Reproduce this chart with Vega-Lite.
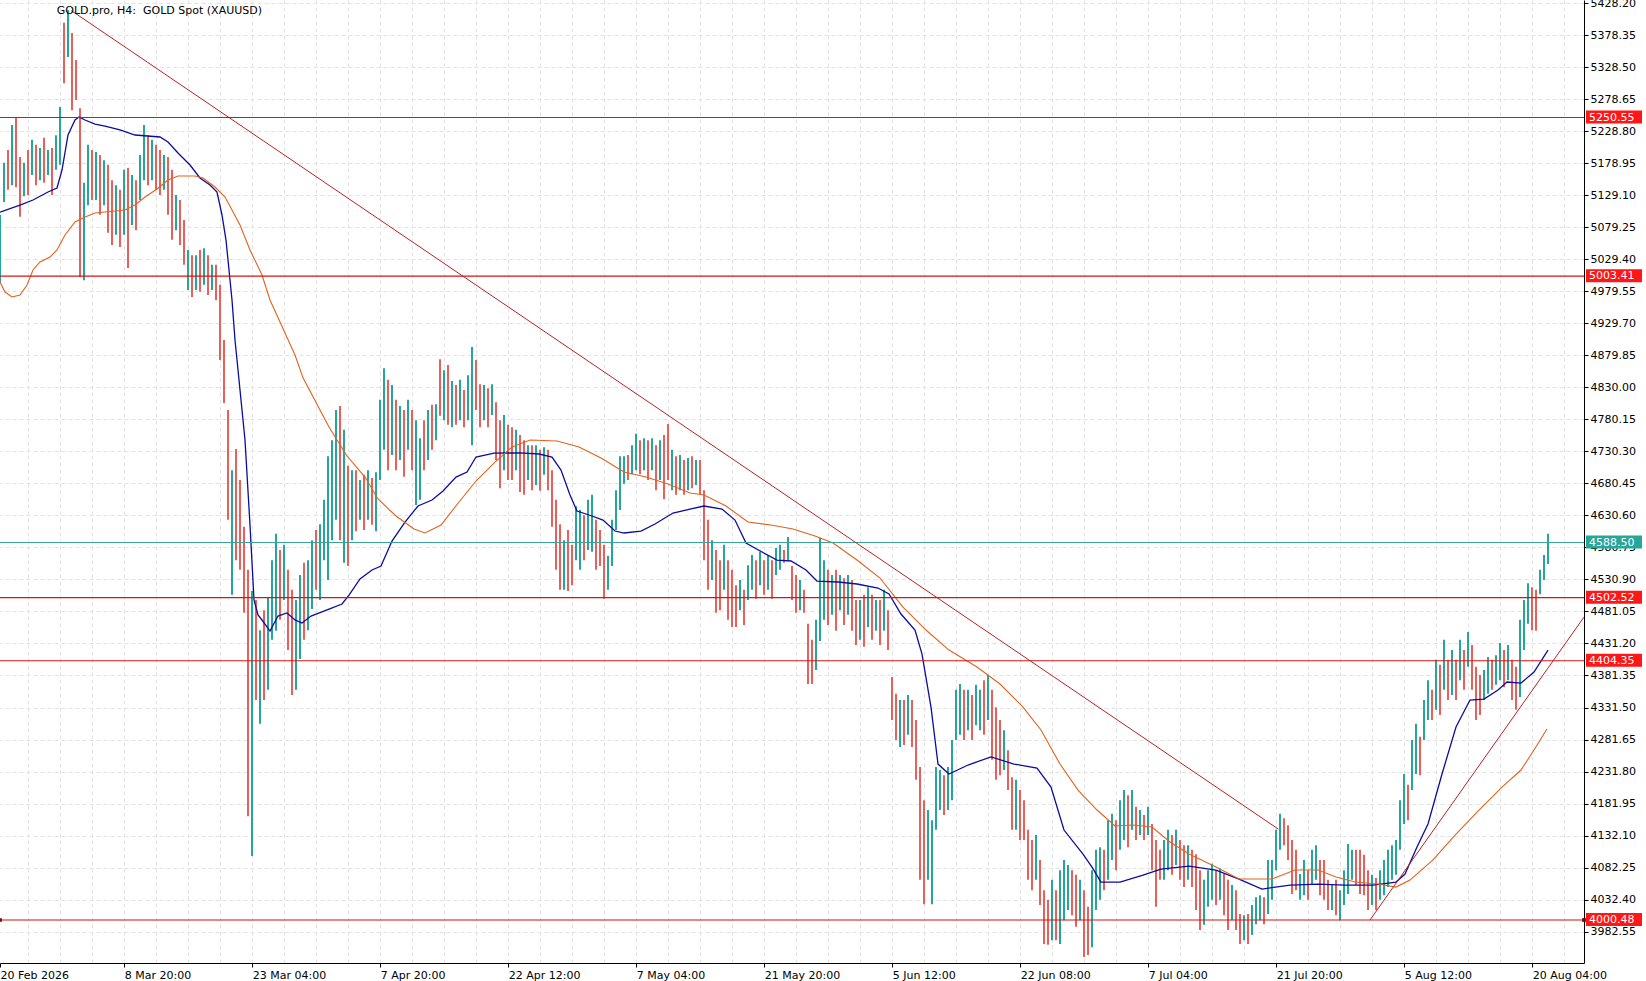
{
  "$schema": "https://vega.github.io/schema/vega-lite/v6.json",
  "width": 1584,
  "height": 963,
  "autosize": "none",
  "padding": {"left": 0, "top": 0, "right": 62, "bottom": 18},
  "background": "white",
  "config": {"view": {"stroke": null}, "font": "DejaVu Sans"},
  "datasets": {
    "bars": [
      {"i":0,"l":4993,"h":5099,"u":1},{"i":1,"l":5119,"h":5180,"u":1},{"i":2,"l":5138,"h":5200,"u":0},{"i":3,"l":5145,"h":5239,"u":1},
      {"i":4,"l":5142,"h":5251,"u":0},{"i":5,"l":5096,"h":5189,"u":0},{"i":6,"l":5128,"h":5180,"u":1},{"i":7,"l":5130,"h":5200,"u":0},
      {"i":8,"l":5161,"h":5216,"u":1},{"i":9,"l":5145,"h":5208,"u":0},{"i":10,"l":5153,"h":5203,"u":1},{"i":11,"l":5149,"h":5219,"u":0},
      {"i":12,"l":5161,"h":5200,"u":1},{"i":13,"l":5130,"h":5203,"u":0},{"i":14,"l":5169,"h":5223,"u":1},{"i":15,"l":5177,"h":5267,"u":1},
      {"i":16,"l":5304,"h":5398,"u":0},{"i":17,"l":5345,"h":5418,"u":1},{"i":18,"l":5262,"h":5382,"u":0},{"i":19,"l":5278,"h":5340,"u":0},
      {"i":20,"l":5002,"h":5265,"u":0},{"i":21,"l":4997,"h":5149,"u":1},{"i":22,"l":5114,"h":5208,"u":1},{"i":23,"l":5122,"h":5200,"u":0},
      {"i":24,"l":5122,"h":5197,"u":1},{"i":25,"l":5099,"h":5192,"u":0},{"i":26,"l":5114,"h":5184,"u":1},{"i":27,"l":5071,"h":5177,"u":0},
      {"i":28,"l":5052,"h":5153,"u":0},{"i":29,"l":5068,"h":5145,"u":1},{"i":30,"l":5049,"h":5138,"u":0},{"i":31,"l":5068,"h":5169,"u":1},
      {"i":32,"l":5016,"h":5172,"u":0},{"i":33,"l":5083,"h":5161,"u":1},{"i":34,"l":5075,"h":5153,"u":0},{"i":35,"l":5122,"h":5192,"u":1},
      {"i":36,"l":5153,"h":5239,"u":1},{"i":37,"l":5145,"h":5223,"u":0},{"i":38,"l":5153,"h":5216,"u":1},{"i":39,"l":5138,"h":5208,"u":0},
      {"i":40,"l":5130,"h":5200,"u":0},{"i":41,"l":5138,"h":5192,"u":1},{"i":42,"l":5099,"h":5189,"u":0},{"i":43,"l":5060,"h":5169,"u":0},
      {"i":44,"l":5075,"h":5130,"u":1},{"i":45,"l":5052,"h":5122,"u":0},{"i":46,"l":5021,"h":5091,"u":0},{"i":47,"l":4982,"h":5044,"u":1},
      {"i":48,"l":4971,"h":5036,"u":0},{"i":49,"l":4982,"h":5036,"u":1},{"i":50,"l":4979,"h":5044,"u":0},{"i":51,"l":4990,"h":5047,"u":1},
      {"i":52,"l":4974,"h":5036,"u":0},{"i":53,"l":4982,"h":5021,"u":1},{"i":54,"l":4966,"h":5021,"u":0},{"i":55,"l":4873,"h":4990,"u":0},
      {"i":56,"l":4806,"h":4904,"u":0},{"i":57,"l":4624,"h":4795,"u":0},{"i":58,"l":4507,"h":4701,"u":1},{"i":59,"l":4561,"h":4734,"u":0},
      {"i":60,"l":4546,"h":4686,"u":0},{"i":61,"l":4479,"h":4613,"u":0},{"i":62,"l":4162,"h":4546,"u":0},{"i":63,"l":4100,"h":4513,"u":1},
      {"i":64,"l":4343,"h":4499,"u":0},{"i":65,"l":4306,"h":4452,"u":1},{"i":66,"l":4343,"h":4483,"u":0},{"i":67,"l":4359,"h":4502,"u":1},
      {"i":68,"l":4437,"h":4561,"u":1},{"i":69,"l":4451,"h":4602,"u":1},{"i":70,"l":4468,"h":4577,"u":0},{"i":71,"l":4499,"h":4585,"u":1},
      {"i":72,"l":4421,"h":4546,"u":0},{"i":73,"l":4351,"h":4515,"u":0},{"i":74,"l":4359,"h":4499,"u":1},{"i":75,"l":4407,"h":4538,"u":1},
      {"i":76,"l":4437,"h":4557,"u":0},{"i":77,"l":4452,"h":4561,"u":1},{"i":78,"l":4485,"h":4592,"u":1},{"i":79,"l":4515,"h":4608,"u":0},
      {"i":80,"l":4499,"h":4617,"u":1},{"i":81,"l":4561,"h":4655,"u":1},{"i":82,"l":4530,"h":4723,"u":1},{"i":83,"l":4592,"h":4748,"u":1},
      {"i":84,"l":4624,"h":4795,"u":1},{"i":85,"l":4592,"h":4801,"u":0},{"i":86,"l":4557,"h":4764,"u":1},{"i":87,"l":4552,"h":4708,"u":0},
      {"i":88,"l":4592,"h":4701,"u":1},{"i":89,"l":4606,"h":4701,"u":0},{"i":90,"l":4624,"h":4686,"u":1},{"i":91,"l":4608,"h":4694,"u":0},
      {"i":92,"l":4624,"h":4701,"u":1},{"i":93,"l":4616,"h":4689,"u":0},{"i":94,"l":4606,"h":4698,"u":1},{"i":95,"l":4686,"h":4811,"u":1},
      {"i":96,"l":4733,"h":4860,"u":1},{"i":97,"l":4701,"h":4842,"u":0},{"i":98,"l":4725,"h":4834,"u":1},{"i":99,"l":4701,"h":4811,"u":0},
      {"i":100,"l":4717,"h":4801,"u":1},{"i":101,"l":4691,"h":4795,"u":0},{"i":102,"l":4733,"h":4811,"u":1},{"i":103,"l":4701,"h":4795,"u":0},
      {"i":104,"l":4647,"h":4779,"u":1},{"i":105,"l":4655,"h":4751,"u":1},{"i":106,"l":4701,"h":4779,"u":0},{"i":107,"l":4717,"h":4795,"u":1},
      {"i":108,"l":4733,"h":4803,"u":0},{"i":109,"l":4748,"h":4804,"u":1},{"i":110,"l":4786,"h":4874,"u":0},{"i":111,"l":4779,"h":4857,"u":1},
      {"i":112,"l":4772,"h":4865,"u":0},{"i":113,"l":4768,"h":4840,"u":1},{"i":114,"l":4772,"h":4834,"u":0},{"i":115,"l":4779,"h":4842,"u":1},
      {"i":116,"l":4768,"h":4826,"u":0},{"i":117,"l":4779,"h":4849,"u":1},{"i":118,"l":4740,"h":4893,"u":1},{"i":119,"l":4795,"h":4873,"u":0},
      {"i":120,"l":4768,"h":4835,"u":0},{"i":121,"l":4779,"h":4834,"u":1},{"i":122,"l":4768,"h":4829,"u":0},{"i":123,"l":4787,"h":4835,"u":1},
      {"i":124,"l":4717,"h":4807,"u":0},{"i":125,"l":4673,"h":4779,"u":0},{"i":126,"l":4701,"h":4787,"u":1},{"i":127,"l":4686,"h":4772,"u":0},
      {"i":128,"l":4686,"h":4768,"u":0},{"i":129,"l":4701,"h":4764,"u":1},{"i":130,"l":4667,"h":4756,"u":0},{"i":131,"l":4663,"h":4748,"u":0},
      {"i":132,"l":4686,"h":4740,"u":1},{"i":133,"l":4670,"h":4740,"u":0},{"i":134,"l":4678,"h":4740,"u":1},{"i":135,"l":4669,"h":4733,"u":0},
      {"i":136,"l":4694,"h":4737,"u":1},{"i":137,"l":4670,"h":4733,"u":0},{"i":138,"l":4613,"h":4701,"u":0},{"i":139,"l":4546,"h":4655,"u":0},
      {"i":140,"l":4515,"h":4617,"u":0},{"i":141,"l":4515,"h":4592,"u":1},{"i":142,"l":4513,"h":4608,"u":0},{"i":143,"l":4522,"h":4585,"u":0},
      {"i":144,"l":4561,"h":4645,"u":1},{"i":145,"l":4546,"h":4639,"u":1},{"i":146,"l":4561,"h":4631,"u":0},{"i":147,"l":4577,"h":4655,"u":1},
      {"i":148,"l":4574,"h":4663,"u":1},{"i":149,"l":4546,"h":4624,"u":0},{"i":150,"l":4552,"h":4608,"u":0},{"i":151,"l":4501,"h":4585,"u":0},
      {"i":152,"l":4515,"h":4568,"u":1},{"i":153,"l":4552,"h":4624,"u":1},{"i":154,"l":4608,"h":4670,"u":1},{"i":155,"l":4639,"h":4723,"u":1},
      {"i":156,"l":4680,"h":4723,"u":1},{"i":157,"l":4686,"h":4725,"u":0},{"i":158,"l":4695,"h":4740,"u":1},{"i":159,"l":4701,"h":4758,"u":1},
      {"i":160,"l":4695,"h":4748,"u":0},{"i":161,"l":4701,"h":4751,"u":1},{"i":162,"l":4686,"h":4748,"u":0},{"i":163,"l":4701,"h":4751,"u":1},
      {"i":164,"l":4670,"h":4740,"u":0},{"i":165,"l":4686,"h":4748,"u":1},{"i":166,"l":4656,"h":4756,"u":0},{"i":167,"l":4686,"h":4773,"u":0},
      {"i":168,"l":4670,"h":4733,"u":1},{"i":169,"l":4663,"h":4723,"u":0},{"i":170,"l":4670,"h":4725,"u":1},{"i":171,"l":4663,"h":4717,"u":0},
      {"i":172,"l":4670,"h":4720,"u":1},{"i":173,"l":4673,"h":4723,"u":0},{"i":174,"l":4678,"h":4717,"u":1},{"i":175,"l":4663,"h":4717,"u":0},
      {"i":176,"l":4561,"h":4670,"u":0},{"i":177,"l":4515,"h":4624,"u":0},{"i":178,"l":4530,"h":4592,"u":1},{"i":179,"l":4479,"h":4577,"u":0},
      {"i":180,"l":4483,"h":4561,"u":0},{"i":181,"l":4515,"h":4585,"u":1},{"i":182,"l":4468,"h":4561,"u":0},{"i":183,"l":4457,"h":4546,"u":0},
      {"i":184,"l":4457,"h":4522,"u":0},{"i":185,"l":4483,"h":4530,"u":1},{"i":186,"l":4460,"h":4515,"u":0},{"i":187,"l":4499,"h":4553,"u":1},
      {"i":188,"l":4515,"h":4569,"u":1},{"i":189,"l":4501,"h":4561,"u":0},{"i":190,"l":4522,"h":4574,"u":1},{"i":191,"l":4507,"h":4561,"u":0},
      {"i":192,"l":4515,"h":4569,"u":1},{"i":193,"l":4501,"h":4561,"u":0},{"i":194,"l":4538,"h":4580,"u":1},{"i":195,"l":4546,"h":4585,"u":1},
      {"i":196,"l":4557,"h":4577,"u":0},{"i":197,"l":4561,"h":4597,"u":1},{"i":198,"l":4499,"h":4552,"u":0},{"i":199,"l":4479,"h":4538,"u":0},
      {"i":200,"l":4483,"h":4530,"u":1},{"i":201,"l":4479,"h":4515,"u":0},{"i":202,"l":4368,"h":4462,"u":0},{"i":203,"l":4368,"h":4437,"u":0},
      {"i":204,"l":4390,"h":4468,"u":1},{"i":205,"l":4435,"h":4596,"u":1},{"i":206,"l":4468,"h":4561,"u":1},{"i":207,"l":4460,"h":4546,"u":0},
      {"i":208,"l":4476,"h":4538,"u":1},{"i":209,"l":4451,"h":4546,"u":0},{"i":210,"l":4483,"h":4538,"u":1},{"i":211,"l":4460,"h":4533,"u":0},
      {"i":212,"l":4476,"h":4538,"u":1},{"i":213,"l":4451,"h":4530,"u":0},{"i":214,"l":4429,"h":4499,"u":0},{"i":215,"l":4437,"h":4499,"u":1},
      {"i":216,"l":4426,"h":4507,"u":0},{"i":217,"l":4457,"h":4519,"u":1},{"i":218,"l":4437,"h":4507,"u":0},{"i":219,"l":4451,"h":4499,"u":1},
      {"i":220,"l":4429,"h":4499,"u":0},{"i":221,"l":4451,"h":4515,"u":1},{"i":222,"l":4421,"h":4483,"u":0},{"i":223,"l":4312,"h":4379,"u":0},
      {"i":224,"l":4281,"h":4353,"u":0},{"i":225,"l":4270,"h":4343,"u":1},{"i":226,"l":4273,"h":4343,"u":0},{"i":227,"l":4289,"h":4351,"u":1},
      {"i":228,"l":4270,"h":4343,"u":0},{"i":229,"l":4219,"h":4312,"u":0},{"i":230,"l":4063,"h":4239,"u":0},{"i":231,"l":4025,"h":4187,"u":0},
      {"i":232,"l":4063,"h":4172,"u":1},{"i":233,"l":4025,"h":4156,"u":1},{"i":234,"l":4141,"h":4239,"u":1},{"i":235,"l":4172,"h":4234,"u":1},
      {"i":236,"l":4164,"h":4226,"u":0},{"i":237,"l":4172,"h":4239,"u":1},{"i":238,"l":4187,"h":4281,"u":1},{"i":239,"l":4281,"h":4359,"u":1},
      {"i":240,"l":4289,"h":4368,"u":1},{"i":241,"l":4281,"h":4359,"u":0},{"i":242,"l":4296,"h":4359,"u":1},{"i":243,"l":4281,"h":4351,"u":0},
      {"i":244,"l":4304,"h":4367,"u":1},{"i":245,"l":4296,"h":4359,"u":1},{"i":246,"l":4289,"h":4374,"u":0},{"i":247,"l":4312,"h":4382,"u":1},
      {"i":248,"l":4250,"h":4359,"u":0},{"i":249,"l":4219,"h":4332,"u":0},{"i":250,"l":4226,"h":4312,"u":0},{"i":251,"l":4234,"h":4296,"u":1},
      {"i":252,"l":4203,"h":4265,"u":0},{"i":253,"l":4141,"h":4223,"u":0},{"i":254,"l":4141,"h":4219,"u":1},{"i":255,"l":4125,"h":4203,"u":0},
      {"i":256,"l":4125,"h":4187,"u":0},{"i":257,"l":4063,"h":4141,"u":0},{"i":258,"l":4047,"h":4125,"u":0},{"i":259,"l":4063,"h":4133,"u":1},
      {"i":260,"l":4024,"h":4094,"u":0},{"i":261,"l":3963,"h":4047,"u":0},{"i":262,"l":3962,"h":4032,"u":0},{"i":263,"l":3969,"h":4063,"u":1},
      {"i":264,"l":3969,"h":4047,"u":0},{"i":265,"l":3963,"h":4078,"u":1},{"i":266,"l":4000,"h":4094,"u":1},{"i":267,"l":4016,"h":4086,"u":1},
      {"i":268,"l":4008,"h":4078,"u":0},{"i":269,"l":3990,"h":4071,"u":0},{"i":270,"l":4000,"h":4063,"u":1},{"i":271,"l":3943,"h":4047,"u":0},
      {"i":272,"l":3946,"h":4021,"u":0},{"i":273,"l":3958,"h":4078,"u":1},{"i":274,"l":4016,"h":4110,"u":1},{"i":275,"l":4032,"h":4114,"u":1},
      {"i":276,"l":4047,"h":4110,"u":0},{"i":277,"l":4063,"h":4156,"u":1},{"i":278,"l":4094,"h":4166,"u":1},{"i":279,"l":4078,"h":4156,"u":0},
      {"i":280,"l":4110,"h":4187,"u":1},{"i":281,"l":4125,"h":4203,"u":1},{"i":282,"l":4114,"h":4195,"u":0},{"i":283,"l":4141,"h":4203,"u":1},
      {"i":284,"l":4125,"h":4177,"u":0},{"i":285,"l":4133,"h":4172,"u":1},{"i":286,"l":4125,"h":4164,"u":0},{"i":287,"l":4133,"h":4177,"u":1},
      {"i":288,"l":4078,"h":4150,"u":0},{"i":289,"l":4021,"h":4125,"u":0},{"i":290,"l":4063,"h":4110,"u":0},{"i":291,"l":4063,"h":4125,"u":1},
      {"i":292,"l":4078,"h":4141,"u":1},{"i":293,"l":4071,"h":4133,"u":0},{"i":294,"l":4086,"h":4141,"u":1},{"i":295,"l":4063,"h":4125,"u":0},
      {"i":296,"l":4052,"h":4117,"u":0},{"i":297,"l":4063,"h":4117,"u":1},{"i":298,"l":4052,"h":4110,"u":0},{"i":299,"l":4016,"h":4103,"u":0},
      {"i":300,"l":3985,"h":4078,"u":0},{"i":301,"l":3993,"h":4063,"u":1},{"i":302,"l":4021,"h":4078,"u":1},{"i":303,"l":4032,"h":4088,"u":1},
      {"i":304,"l":4024,"h":4078,"u":0},{"i":305,"l":4032,"h":4081,"u":1},{"i":306,"l":4008,"h":4072,"u":0},{"i":307,"l":3985,"h":4063,"u":0},
      {"i":308,"l":4000,"h":4055,"u":1},{"i":309,"l":3985,"h":4047,"u":0},{"i":310,"l":3963,"h":4010,"u":0},{"i":311,"l":3969,"h":4008,"u":1},
      {"i":312,"l":3963,"h":4010,"u":0},{"i":313,"l":3977,"h":4024,"u":1},{"i":314,"l":3994,"h":4036,"u":1},{"i":315,"l":4000,"h":4039,"u":1},
      {"i":316,"l":3994,"h":4036,"u":0},{"i":317,"l":4010,"h":4094,"u":1},{"i":318,"l":4032,"h":4094,"u":1},{"i":319,"l":4078,"h":4141,"u":1},
      {"i":320,"l":4110,"h":4166,"u":1},{"i":321,"l":4117,"h":4159,"u":0},{"i":322,"l":4094,"h":4148,"u":0},{"i":323,"l":4041,"h":4125,"u":0},
      {"i":324,"l":4047,"h":4110,"u":0},{"i":325,"l":4032,"h":4072,"u":1},{"i":326,"l":4039,"h":4094,"u":1},{"i":327,"l":4032,"h":4078,"u":0},
      {"i":328,"l":4055,"h":4110,"u":1},{"i":329,"l":4063,"h":4117,"u":1},{"i":330,"l":4039,"h":4094,"u":0},{"i":331,"l":4032,"h":4094,"u":0},
      {"i":332,"l":4016,"h":4063,"u":0},{"i":333,"l":4016,"h":4055,"u":1},{"i":334,"l":4008,"h":4063,"u":0},{"i":335,"l":4000,"h":4047,"u":1},
      {"i":336,"l":4024,"h":4078,"u":1},{"i":337,"l":4041,"h":4119,"u":1},{"i":338,"l":4063,"h":4110,"u":1},{"i":339,"l":4055,"h":4110,"u":0},
      {"i":340,"l":4041,"h":4110,"u":0},{"i":341,"l":4039,"h":4102,"u":0},{"i":342,"l":4016,"h":4078,"u":0},{"i":343,"l":4024,"h":4071,"u":1},
      {"i":344,"l":4016,"h":4066,"u":0},{"i":345,"l":4032,"h":4078,"u":1},{"i":346,"l":4039,"h":4094,"u":1},{"i":347,"l":4052,"h":4110,"u":1},
      {"i":348,"l":4063,"h":4117,"u":1},{"i":349,"l":4071,"h":4125,"u":1},{"i":350,"l":4110,"h":4187,"u":1},{"i":351,"l":4150,"h":4228,"u":1},
      {"i":352,"l":4156,"h":4211,"u":0},{"i":353,"l":4203,"h":4281,"u":1},{"i":354,"l":4228,"h":4306,"u":1},{"i":355,"l":4226,"h":4286,"u":0},
      {"i":356,"l":4281,"h":4343,"u":1},{"i":357,"l":4312,"h":4374,"u":1},{"i":358,"l":4312,"h":4359,"u":0},{"i":359,"l":4328,"h":4406,"u":1},
      {"i":360,"l":4320,"h":4398,"u":0},{"i":361,"l":4359,"h":4437,"u":1},{"i":362,"l":4343,"h":4406,"u":0},{"i":363,"l":4351,"h":4421,"u":1},
      {"i":364,"l":4343,"h":4406,"u":0},{"i":365,"l":4374,"h":4437,"u":1},{"i":366,"l":4359,"h":4421,"u":0},{"i":367,"l":4395,"h":4449,"u":1},
      {"i":368,"l":4359,"h":4429,"u":0},{"i":369,"l":4312,"h":4395,"u":0},{"i":370,"l":4320,"h":4382,"u":0},{"i":371,"l":4343,"h":4390,"u":1},
      {"i":372,"l":4353,"h":4410,"u":1},{"i":373,"l":4359,"h":4406,"u":0},{"i":374,"l":4367,"h":4413,"u":1},{"i":375,"l":4374,"h":4432,"u":1},
      {"i":376,"l":4363,"h":4421,"u":0},{"i":377,"l":4374,"h":4429,"u":1},{"i":378,"l":4343,"h":4406,"u":0},{"i":379,"l":4328,"h":4395,"u":0},
      {"i":380,"l":4348,"h":4468,"u":1},{"i":381,"l":4421,"h":4499,"u":1},{"i":382,"l":4462,"h":4525,"u":1},{"i":383,"l":4452,"h":4519,"u":0},
      {"i":384,"l":4451,"h":4515,"u":0},{"i":385,"l":4508,"h":4546,"u":1},{"i":386,"l":4530,"h":4569,"u":1},{"i":387,"l":4555,"h":4602,"u":1}
    ],
    "fast": [
      {"i":0,"v":5103},{"i":5,"v":5114},{"i":8.25,"v":5122},{"i":12,"v":5134.5},{"i":14.25,"v":5140.7},{"i":15.5,"v":5168.8},
      {"i":17,"v":5223.3},{"i":18.75,"v":5246.7},{"i":19.75,"v":5251.3},{"i":21.25,"v":5246.7},{"i":23.75,"v":5240.4},{"i":26.25,"v":5237.3},
      {"i":30,"v":5231.1},{"i":33.75,"v":5223.3},{"i":40,"v":5220.2},{"i":42,"v":5212.4},{"i":44.5,"v":5195.3},{"i":47.5,"v":5176.6},
      {"i":50,"v":5156.3},{"i":52.5,"v":5145.4},{"i":54.25,"v":5134.5},{"i":55.5,"v":5098.7},{"i":56.5,"v":5059.7},{"i":57.25,"v":5013},
      {"i":58,"v":4966.3},{"i":58.75,"v":4903.9},{"i":60,"v":4826.1},{"i":61.25,"v":4748.2},{"i":62.5,"v":4615.8},{"i":63.5,"v":4499},
      {"i":64.5,"v":4475.6},{"i":65.5,"v":4467.8},{"i":67.5,"v":4450.6},{"i":69.5,"v":4474},{"i":71.75,"v":4478.7},{"i":73.75,"v":4468},
      {"i":75.5,"v":4463.1},{"i":77.75,"v":4474},{"i":82.25,"v":4484.9},{"i":85.5,"v":4492.7},{"i":87.25,"v":4506.7},{"i":90,"v":4531.7},
      {"i":93,"v":4545.7},{"i":95.25,"v":4551.9},{"i":98,"v":4590.8},{"i":101.25,"v":4620.4},{"i":104.5,"v":4645.4},{"i":108,"v":4654.7},
      {"i":110.75,"v":4668.7},{"i":114,"v":4690.5},{"i":116.75,"v":4698.3},{"i":119,"v":4721.7},{"i":123.5,"v":4727.9},{"i":130,"v":4728},
      {"i":134.75,"v":4726.4},{"i":138,"v":4721.7},{"i":140.25,"v":4701.4},{"i":142.5,"v":4662.5},{"i":144.25,"v":4637.5},{"i":148,"v":4629.8},
      {"i":150.75,"v":4623.5},{"i":153.75,"v":4606.4},{"i":156,"v":4603.3},{"i":160.25,"v":4606.4},{"i":163.75,"v":4617.3},{"i":168.25,"v":4634.4},
      {"i":172.5,"v":4640.7},{"i":176,"v":4645.4},{"i":180.5,"v":4640.7},{"i":183.75,"v":4623.5},{"i":186.5,"v":4587.7},{"i":190.5,"v":4573.7},
      {"i":194.25,"v":4561.2},{"i":197.75,"v":4559.7},{"i":201.5,"v":4545.7},{"i":204.25,"v":4528.5},{"i":209.5,"v":4527},{"i":214.25,"v":4523.9},
      {"i":219.5,"v":4517.6},{"i":222.25,"v":4508.3},{"i":225.25,"v":4477.1},{"i":228.75,"v":4452.2},{"i":230.5,"v":4414.8},{"i":232.75,"v":4332.2},
      {"i":234.5,"v":4243.4},{"i":237.25,"v":4227.9},{"i":242,"v":4241.9},{"i":247.75,"v":4254.4},{"i":253.5,"v":4243.4},{"i":259.25,"v":4237.2},
      {"i":262.75,"v":4207.6},{"i":266,"v":4140.6},{"i":270.75,"v":4103.2},{"i":273,"v":4082.9},{"i":275.25,"v":4059.6},{"i":280,"v":4059.6},
      {"i":285.75,"v":4070.5},{"i":290.25,"v":4079.9},{"i":297.25,"v":4084.5},{"i":304,"v":4078.3},{"i":309.75,"v":4064.3},{"i":315.5,"v":4048.7},
      {"i":322.5,"v":4054.9},{"i":329.5,"v":4056.5},{"i":336.25,"v":4054.9},{"i":343.25,"v":4054.9},{"i":349,"v":4059.6},{"i":351.25,"v":4072.1},
      {"i":354.25,"v":4114.1},{"i":357,"v":4150},{"i":360.5,"v":4227.9},{"i":364,"v":4301.1},{"i":367.5,"v":4343.1},{"i":371,"v":4344.7},
      {"i":374.5,"v":4358.7},{"i":376.75,"v":4371.2},{"i":380.25,"v":4369.6},{"i":383.5,"v":4386.8},{"i":387,"v":4421}
    ],
    "slow": [
      {"i":0,"v":4994.3},{"i":1.25,"v":4978.7},{"i":3,"v":4971},{"i":5,"v":4974.1},{"i":6.75,"v":4989.6},{"i":8.25,"v":5013},
      {"i":10,"v":5025.5},{"i":12.5,"v":5033.2},{"i":14.25,"v":5044.2},{"i":16.25,"v":5067.5},{"i":18.75,"v":5087.8},{"i":21.25,"v":5095.6},
      {"i":23.75,"v":5101.8},{"i":28.75,"v":5104.9},{"i":31.25,"v":5106.5},{"i":33.75,"v":5114.3},{"i":36.25,"v":5126.7},{"i":39.25,"v":5139.2},
      {"i":42,"v":5153.2},{"i":44.5,"v":5159.4},{"i":48.75,"v":5159.4},{"i":50.75,"v":5156.3},{"i":53.75,"v":5142.3},{"i":56.25,"v":5126.7},
      {"i":58,"v":5106.5},{"i":60,"v":5083.1},{"i":62.5,"v":5044.2},{"i":65.5,"v":5005.2},{"i":67.5,"v":4966.3},{"i":70,"v":4932},
      {"i":73.75,"v":4880.6},{"i":75.75,"v":4845},{"i":82.25,"v":4768.4},{"i":86.75,"v":4723.2},{"i":91.25,"v":4690.5},{"i":94.5,"v":4656.3},
      {"i":99,"v":4629.8},{"i":103.5,"v":4609.5},{"i":106.25,"v":4603.3},{"i":110.25,"v":4615.8},{"i":114.75,"v":4651.6},{"i":119,"v":4684.3},
      {"i":123.5,"v":4712.3},{"i":128,"v":4737.3},{"i":132.5,"v":4748.2},{"i":139.25,"v":4746.6},{"i":144.75,"v":4737.3},{"i":150.25,"v":4720.1},
      {"i":156,"v":4698.3},{"i":161.5,"v":4690.5},{"i":167,"v":4679.6},{"i":172.5,"v":4665.6},{"i":176,"v":4662.5},{"i":181.5,"v":4645.4},
      {"i":187,"v":4620.4},{"i":192.75,"v":4615.8},{"i":198.25,"v":4609.5},{"i":203.75,"v":4598.6},{"i":208.25,"v":4587.7},{"i":214.25,"v":4561.2},
      {"i":220,"v":4533.2},{"i":225.75,"v":4488},{"i":231.5,"v":4452.2},{"i":237.25,"v":4421},{"i":244.25,"v":4394.5},{"i":250,"v":4368.1},
      {"i":255.75,"v":4332.2},{"i":260.25,"v":4296.4},{"i":265,"v":4243.4},{"i":269.5,"v":4202.9},{"i":274.25,"v":4171.8},{"i":278.75,"v":4146.9},
      {"i":283.25,"v":4148.4},{"i":288,"v":4145.3},{"i":292.5,"v":4122},{"i":297.25,"v":4103.2},{"i":304,"v":4083},{"i":309.75,"v":4064.3},
      {"i":318,"v":4064.3},{"i":323.75,"v":4078.3},{"i":329.5,"v":4078.3},{"i":334,"v":4067.4},{"i":338.75,"v":4059.6},{"i":344.5,"v":4056.5},
      {"i":349,"v":4051.8},{"i":352.5,"v":4062.7},{"i":358.25,"v":4094},{"i":364,"v":4134.4},{"i":369.75,"v":4171.8},{"i":375.5,"v":4207.6},
      {"i":380.25,"v":4234.1},{"i":383.5,"v":4265.3},{"i":386.75,"v":4298}
    ],
    "trend": [
      {"g":"down","i":17.85,"p":5417},{"g":"down","i":319.6,"p":4142},
      {"g":"up","i":342.5,"p":4000.5},{"g":"up","i":396,"p":4472.4}
    ],
    "levels": [
      {"p":5250.55,"k":"r"},{"p":5003.41,"k":"r"},{"p":4588.50,"k":"t"},
      {"p":4502.52,"k":"r"},{"p":4404.35,"k":"r"},{"p":4000.48,"k":"r"}
    ],
    "ends": [{"i":0,"p":4000.48},{"i":396,"p":4000.48}],
    "caption": [{"i":14.2,"p":5416,"t":"GOLD.pro, H4:\u00a0 GOLD Spot (XAUUSD)"}]
  },
  "resolve": {"axis": {"x": "independent"}},
  "layer": [
    {
      "data": {"name": "bars"},
      "mark": {"type": "rule", "strokeWidth": 2},
      "encoding": {
        "x": {
          "field": "i", "type": "quantitative",
          "scale": {"domain": [0, 396], "nice": false, "zero": false},
          "axis": {
            "orient": "bottom", "title": null, "labels": false, "ticks": false, "domain": false,
            "grid": true, "gridColor": "#e2e2e2", "gridDash": [4, 3], "tickCount": 100,
            "values": [7.08,15.08,23.08,31.08,39.08,47.08,55.08,63.08,71.08,79.08,87.08,95.08,103.08,111.08,119.08,127.08,135.08,143.08,151.08,159.08,167.08,175.08,183.08,191.08,199.08,207.08,215.08,223.08,231.08,239.08,247.08,255.08,263.08,271.08,279.08,287.08,295.08,303.08,311.08,319.08,327.08,335.08,343.08,351.08,359.08,367.08,375.08,383.08,391.08]
          }
        },
        "y": {
          "field": "l", "type": "quantitative",
          "scale": {"domain": [3933.5, 5433.6], "nice": false, "zero": false},
          "axis": {
            "orient": "right", "title": null, "format": ".2f", "tickCount": 100,
            "grid": true, "gridColor": "#e2e2e2", "gridDash": [4, 3],
            "tickSize": 4, "tickColor": "#000000", "domainColor": "#000000",
            "labelColor": "#000000", "labelFont": "DejaVu Sans", "labelFontSize": 11, "labelPadding": 2,
            "labelOverlap": false,
            "values": [3982.55,4032.40,4082.25,4132.10,4181.95,4231.80,4281.65,4331.50,4381.35,4431.20,4481.05,4530.90,4580.75,4630.60,4680.45,4730.30,4780.15,4830.00,4879.85,4929.70,4979.55,5029.40,5079.25,5129.10,5178.95,5228.80,5278.65,5328.50,5378.35,5428.20]
          }
        },
        "y2": {"field": "h"},
        "color": {"condition": {"test": "datum.u == 1", "value": "#26a69a"}, "value": "#e9605a"}
      }
    },
    {
      "data": {"name": "fast"},
      "mark": {"type": "line", "color": "#0c0c9e", "strokeWidth": 1.3},
      "encoding": {
        "x": {
          "field": "i", "type": "quantitative",
          "scale": {"domain": [0, 396], "nice": false, "zero": false},
          "axis": {
            "orient": "bottom", "title": null, "grid": false, "tickCount": 100,
            "values": [0,31.08,63.08,95.08,127.08,159.08,191.08,223.08,255.08,287.08,319.08,351.08,383.08],
            "labelExpr": "['20 Feb 2026','8 Mar 20:00','23 Mar 04:00','7 Apr 20:00','22 Apr 12:00','7 May 04:00','21 May 20:00','5 Jun 12:00','22 Jun 08:00','7 Jul 04:00','21 Jul 20:00','5 Aug 12:00','20 Aug 04:00'][round((datum.value + 0.5) / 32)]",
            "tickSize": 4, "tickColor": "#000000", "domainColor": "#000000",
            "labelAlign": "left", "labelBaseline": "top", "labelPadding": 2, "labelDx": -1,
            "labelColor": "#000000", "labelFont": "DejaVu Sans", "labelFontSize": 11,
            "labelOverlap": false, "labelBound": false, "labelFlush": false
          }
        },
        "y": {"field": "v", "type": "quantitative", "scale": {"domain": [3933.5, 5433.6], "nice": false, "zero": false}, "axis": {"title": null}}
      }
    },
    {
      "data": {"name": "slow"},
      "mark": {"type": "line", "color": "#e2621e", "strokeWidth": 1.1},
      "encoding": {
        "x": {"field": "i", "type": "quantitative", "scale": {"domain": [0, 396], "nice": false, "zero": false}, "axis": null},
        "y": {"field": "v", "type": "quantitative", "scale": {"domain": [3933.5, 5433.6], "nice": false, "zero": false}, "axis": {"title": null}}
      }
    },
    {
      "data": {"name": "levels"},
      "mark": {"type": "rule", "strokeWidth": 1.2},
      "encoding": {
        "y": {"field": "p", "type": "quantitative", "scale": {"domain": [3933.5, 5433.6], "nice": false, "zero": false}, "axis": {"title": null}},
        "color": {"condition": {"test": "datum.k == 't'", "value": "#3aa39a"}, "value": "#d81414"}
      }
    },
    {
      "data": {"name": "trend"},
      "mark": {"type": "line", "color": "#b82222", "strokeWidth": 1, "clip": true},
      "encoding": {
        "x": {"field": "i", "type": "quantitative", "scale": {"domain": [0, 396], "nice": false, "zero": false}, "axis": null},
        "y": {"field": "p", "type": "quantitative", "scale": {"domain": [3933.5, 5433.6], "nice": false, "zero": false}, "axis": {"title": null}},
        "detail": {"field": "g"}
      }
    },
    {
      "data": {"name": "ends"},
      "mark": {"type": "point", "shape": "square", "filled": true, "size": 14, "color": "#6a0a0a", "opacity": 1},
      "encoding": {
        "x": {"field": "i", "type": "quantitative", "scale": {"domain": [0, 396], "nice": false, "zero": false}, "axis": null},
        "y": {"field": "p", "type": "quantitative", "scale": {"domain": [3933.5, 5433.6], "nice": false, "zero": false}, "axis": {"title": null}}
      }
    },
    {
      "data": {"name": "caption"},
      "mark": {"type": "text", "align": "left", "baseline": "middle", "font": "DejaVu Sans", "fontSize": 11, "color": "#000000"},
      "encoding": {
        "x": {"field": "i", "type": "quantitative", "scale": {"domain": [0, 396], "nice": false, "zero": false}, "axis": null},
        "y": {"field": "p", "type": "quantitative", "scale": {"domain": [3933.5, 5433.6], "nice": false, "zero": false}, "axis": {"title": null}},
        "text": {"field": "t"}
      }
    },
    {
      "data": {"name": "levels"},
      "mark": {"type": "rect", "xOffset": 2, "x2Offset": 58, "yOffset": -7, "y2Offset": 6},
      "encoding": {
        "x": {"value": "width"},
        "x2": {"value": "width"},
        "y": {"field": "p", "type": "quantitative", "scale": {"domain": [3933.5, 5433.6], "nice": false, "zero": false}, "axis": {"title": null}},
        "y2": {"field": "p"},
        "color": {"condition": {"test": "datum.k == 't'", "value": "#26a69a"}, "value": "#ff1616"}
      }
    },
    {
      "data": {"name": "levels"},
      "mark": {"type": "text", "align": "left", "baseline": "middle", "dx": 5, "font": "DejaVu Sans", "fontSize": 11, "color": "#ffffff"},
      "encoding": {
        "x": {"value": "width"},
        "y": {"field": "p", "type": "quantitative", "scale": {"domain": [3933.5, 5433.6], "nice": false, "zero": false}, "axis": {"title": null}},
        "text": {"field": "p", "type": "quantitative", "format": ".2f"}
      }
    }
  ]
}
